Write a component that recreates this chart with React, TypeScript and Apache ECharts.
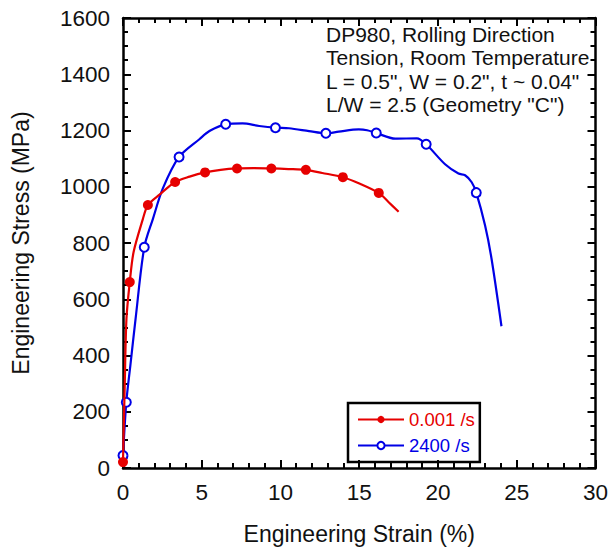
import React, { useEffect, useRef } from "react";
import * as echarts from "echarts";

// ---- data ----
const seriesNames = ["0.001 /s", "2400 /s"];

// 0.001 /s curve (points between markers)
const redCurveStrain = [0.05, 0.11, 0.22, 0.67, 1.26, 2.34, 4.23, 6.2, 8.3, 10.5, 12.65, 15.08, 16.87, 17.5];
const redCurveStress = [150, 295, 531, 767, 885, 973, 1036, 1060, 1066, 1063, 1049, 1010, 945, 911];
// 0.001 /s markers
const redMarkStrain = [0, 0.43, 1.58, 3.31, 5.21, 7.24, 9.42, 11.61, 13.96, 16.24];
const redMarkStress = [21, 661, 935, 1017, 1051, 1065, 1065, 1060, 1034, 978];

// 2400 /s curve (points between markers)
const blueCurveStrain = [0.47, 0.8, 1.9, 2.53, 4.85, 5.49, 7.59, 8.65, 10.54, 11.81, 13.7, 14.97, 15.5, 17.29, 18.66, 20.45, 21.3, 21.72, 22.14, 22.99, 23.4, 24.03];
const blueCurveStress = [366, 531, 886, 994, 1169, 1198, 1225, 1216, 1208, 1198, 1196, 1204, 1201, 1171, 1172, 1080, 1047, 1041, 1016, 862, 744, 504];
// 2400 /s markers
const blueMarkStrain = [0, 0.21, 1.35, 3.56, 6.52, 9.68, 12.88, 16.08, 19.25, 22.43];
const blueMarkStress = [44, 234, 785, 1106, 1222, 1210, 1190, 1191, 1151, 979];

const xTicks = { min: 0, max: 30, step: 5 };
const yTicks = { min: 0, max: 1600, step: 200 };

const xTitle = "Engineering Strain (%)";
const yTitle = "Engineering Stress (MPa)";
const noteLines = [
  "DP980, Rolling Direction",
  "Tension, Room Temperature",
  'L = 0.5", W = 0.2", t ~ 0.04"',
  'L/W = 2.5 (Geometry "C")',
];

const FONT = "'Liberation Sans', Arial, Helvetica, sans-serif";
const RED = "#e60000";
const BLUE = "#0000e6";

function buildData(cx: number[], cy: number[], mx: number[], my: number[]) {
  const pts: { x: number; y: number; m: boolean }[] = [];
  cx.forEach((x, i) => pts.push({ x, y: cy[i], m: false }));
  mx.forEach((x, i) => pts.push({ x, y: my[i], m: true }));
  pts.sort((a, b) => a.x - b.x);
  return pts.map((p) =>
    p.m ? { value: [p.x, p.y] } : { value: [p.x, p.y], symbol: "none" }
  );
}

export default function App() {
  const ref = useRef<HTMLDivElement>(null);
  useEffect(() => {
    document.body.style.margin = "0";
    const chart = echarts.init(ref.current!, null, { renderer: "svg" });

    const axisCommon = {
      axisLine: { show: true, onZero: false, lineStyle: { color: "#000", width: 2.5 } },
      axisTick: { show: true, inside: true, length: 8, lineStyle: { color: "#000", width: 2 } },
      minorTick: { show: true, length: 5, lineStyle: { color: "#000", width: 2 } },
      splitLine: { show: false },
      minorSplitLine: { show: false },
    };
    const labelStyle = {
      fontSize: 22.5,
      color: "#111",
      margin: 13,
      fontFamily: FONT,
      formatter: (v: number) => String(v),
    };
    const titleStyle = { fontSize: 23, color: "#111", fontFamily: FONT };

    const option: any = {
      animation: false,
      backgroundColor: "#fff",
      grid: { left: 123, top: 18, width: 475, height: 452, containLabel: false },
      xAxis: [
        {
          type: "value",
          position: "bottom",
          min: xTicks.min,
          max: xTicks.max,
          interval: xTicks.step,
          ...axisCommon,
          minorTick: { ...axisCommon.minorTick, splitNumber: 5 },
          axisLabel: labelStyle,
          name: xTitle,
          nameLocation: "middle",
          nameGap: 54,
          nameTextStyle: titleStyle,
        },
        {
          type: "value",
          position: "top",
          min: xTicks.min,
          max: xTicks.max,
          interval: xTicks.step,
          ...axisCommon,
          minorTick: { ...axisCommon.minorTick, splitNumber: 5 },
          axisLabel: { show: false },
        },
      ],
      yAxis: [
        {
          type: "value",
          position: "left",
          min: yTicks.min,
          max: yTicks.max,
          interval: yTicks.step,
          ...axisCommon,
          minorTick: { ...axisCommon.minorTick, splitNumber: 4 },
          axisLabel: labelStyle,
          name: yTitle,
          nameLocation: "middle",
          nameGap: 91,
          nameTextStyle: titleStyle,
        },
        {
          type: "value",
          position: "right",
          min: yTicks.min,
          max: yTicks.max,
          interval: yTicks.step,
          ...axisCommon,
          minorTick: { ...axisCommon.minorTick, splitNumber: 4 },
          axisLabel: { show: false },
        },
      ],
      legend: {
        orient: "vertical",
        left: 348,
        top: 403,
        borderColor: "#000",
        borderWidth: 2.5,
        borderRadius: 0,
        padding: [7, 5, 7, 9],
        itemWidth: 46,
        itemHeight: 9,
        itemGap: 7,
        textStyle: { fontSize: 18.5, fontFamily: FONT },
        data: [
          { name: seriesNames[0], textStyle: { color: RED } },
          { name: seriesNames[1], textStyle: { color: BLUE } },
        ],
      },
      graphic: [
        {
          type: "text",
          left: 326,
          top: 23,
          style: {
            text: noteLines.join("\n"),
            font: `21px ${FONT}`,
            lineHeight: 23.3,
            fill: "#111",
          },
        },
      ],
      series: [
        {
          name: seriesNames[0],
          type: "line",
          xAxisIndex: 0,
          yAxisIndex: 0,
          data: buildData(redCurveStrain, redCurveStress, redMarkStrain, redMarkStress),
          smooth: 0.3,
          symbol: "circle",
          symbolSize: 10,
          showSymbol: true,
          showAllSymbol: true,
          clip: false,
          lineStyle: { color: RED, width: 2.2 },
          itemStyle: { color: RED },
          z: 3,
        },
        {
          name: seriesNames[1],
          type: "line",
          xAxisIndex: 0,
          yAxisIndex: 0,
          data: buildData(blueCurveStrain, blueCurveStress, blueMarkStrain, blueMarkStress),
          smooth: 0.3,
          symbol: "emptyCircle",
          symbolSize: 9,
          showSymbol: true,
          showAllSymbol: true,
          clip: false,
          lineStyle: { color: BLUE, width: 2.2 },
          itemStyle: { color: BLUE, borderWidth: 1.2 },
          z: 2,
        },
      ],
    };
    chart.setOption(option);
    return () => chart.dispose();
  }, []);
  return <div ref={ref} style={{ width: 611, height: 550 }} />;
}
